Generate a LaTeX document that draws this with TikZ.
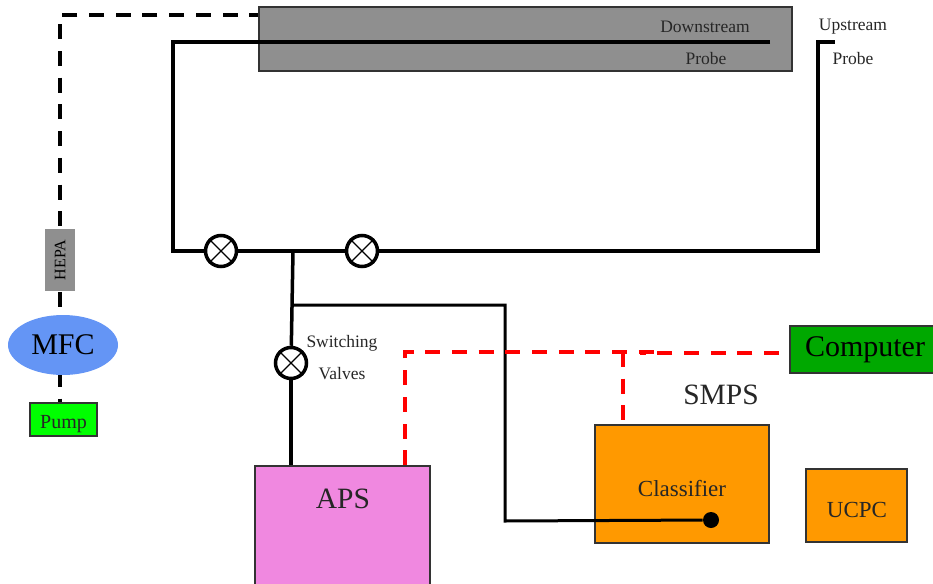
\documentclass[tikz,border=0pt]{standalone}
\usepackage{fontspec}
\setmainfont{Liberation Serif}
\usepackage{xcolor}
\usetikzlibrary{calc}
\usetikzlibrary{shapes.geometric}
\definecolor{probegray}{HTML}{8F8F8F}
\definecolor{mfcblue}{HTML}{6495F5}
\definecolor{apspink}{HTML}{F088E0}
\definecolor{smpsorange}{HTML}{FF9900}
\definecolor{compgreen}{HTML}{00A800}
\tikzset{sz/.style 2 args={minimum width=#1pt,minimum height=#2pt}}
\begin{document}
\begin{tikzpicture}[x=1pt,y=-1pt,-,auto,semithick]
	\tikzstyle{box}=[draw=black!80,line width=1.5pt,inner sep=0pt]
	\tikzstyle{pipe}=[draw,line width=3.5pt,line join=miter]
	\tikzstyle{air}=[draw,line width=4pt,dash pattern=on 15pt off 11.7pt]
	\tikzstyle{sig}=[draw=red,line width=3.5pt,dash pattern=on 15pt off 11.7pt]
	\tikzstyle{valve}=[draw,circle,line width=3.5pt,fill=white,inner sep=0pt,minimum size=31pt]
	\tikzstyle{txt}=[inner sep=0pt,font=\fontsize{17.5}{20}\selectfont,text=black!85]
	\clip (0,0) rectangle (933,583);

	% probe housing and the boxes
	\node[box,fill=probegray,sz={533}{64}] (probe) at (525.5,39) {};
	\node[box,fill=apspink,sz={175}{130}] (aps) at (342.5,531) {};
	\node[box,fill=smpsorange,sz={174}{118}] (cls) at (682,484) {};
	\node[box,fill=smpsorange,sz={101}{73}] (ucpc) at (856.5,505.5) {};
	\node[box,fill=compgreen,sz={150}{47},font=\fontsize{30}{32}\selectfont] (comp) at (865,349.5) {Computer};
	\node[box,draw=none,fill=probegray,sz={29.5}{62},font=\fontsize{16}{18}\selectfont] (hepa) at (60,260) {\rotatebox{90}{HEPA}};
	\node[box,fill=green,sz={67}{33}] (pump) at (63.5,419.5) {};

	% air line to the pump
	\coordinate (corner) at (60,15);
	\coordinate (mouth) at (probe.west |- corner);
	\draw[air,dash phase=6pt] (mouth) -- (corner) -- (hepa.north);
	\draw[air] (hepa.south) -- (hepa.south |- pump.north);
	\node[ellipse,fill=mfcblue,inner sep=0pt,minimum width=110pt,minimum height=60pt,font=\fontsize{30}{32}\selectfont] (mfc) at (63,345) {MFC};

	% sampling lines
	\coordinate (down) at (770,42);
	\coordinate (upend) at (835,42);
	\coordinate (upbend) at (818,42);
	\coordinate (botleft) at (173,251);
	\coordinate (botright) at (818,251);
	\coordinate (topleft) at (173,42);
	\coordinate (tee) at (293,251);
	\coordinate (tee2) at (293,305);
	\coordinate (turn) at (505,305);
	\coordinate (turn2) at (505,521);
	\node[circle,fill=black,inner sep=0pt,minimum size=16pt] (dot) at (711,520) {};
	\node[valve] (v1) at (221,251) {};
	\node[valve] (v2) at (362,251) {};
	\node[valve] (v3) at (291,363) {};
	\draw[pipe] (down) -- (topleft) -- (botleft) -- (v1);
	\draw[pipe] (v1) -- (v2);
	\draw[pipe] (v2) -- (botright) -- (upbend) -- (upend);
	\draw[pipe] (tee) -- (v3);
	\draw[pipe] (v3) -- (v3 |- aps.north);
	\draw[pipe,line width=3pt] (tee2) -- (turn) -- (turn2) -- (dot);

	% signal lines
	\coordinate (redcorner) at (405,352);
	\coordinate (redend) at (655,352);
	\coordinate (redstart) at (640,353);
	\coordinate (redtee) at (623,352);
	\coordinate (redright) at (779,353);
	\draw[sig] (redcorner |- aps.north) -- (redcorner) -- (redend);
	\draw[sig] (redright) -- (redstart);
	\draw[sig] (redtee) -- (redtee |- cls.north);

	\foreach \j in {v1,v2,v3}{
		\draw[line width=1.3pt] (\j.north east) -- (\j.south west);
		\draw[line width=1.3pt] (\j.north west) -- (\j.south east);
		}

	\node[txt] (t1) at (705,27) {Downstream};
	\node[txt] (t2) at (706,59) {Probe};
	\node[txt] (t3) at (853,27) {Upstream};
	\node[txt] (t4) at (853,59) {Probe};
	\node[txt] (t5) at (342,343) {Switching};
	\node[txt] (t6) at (342,374) {Valves};
	\node[txt,font=\fontsize{29.5}{32}\selectfont] (t7) at (343,499) {APS};
	\node[txt,font=\fontsize{29.5}{32}\selectfont] (t8) at (721,395) {SMPS};
	\node[txt,font=\fontsize{23}{25}\selectfont] (t9) at (682,489) {Classifier};
	\node[txt,font=\fontsize{23}{25}\selectfont] (t10) at (857,510) {UCPC};
	\node[txt,font=\fontsize{20}{22}\selectfont] (t11) at (63.5,424) {Pump};
\end{tikzpicture}
\end{document}
